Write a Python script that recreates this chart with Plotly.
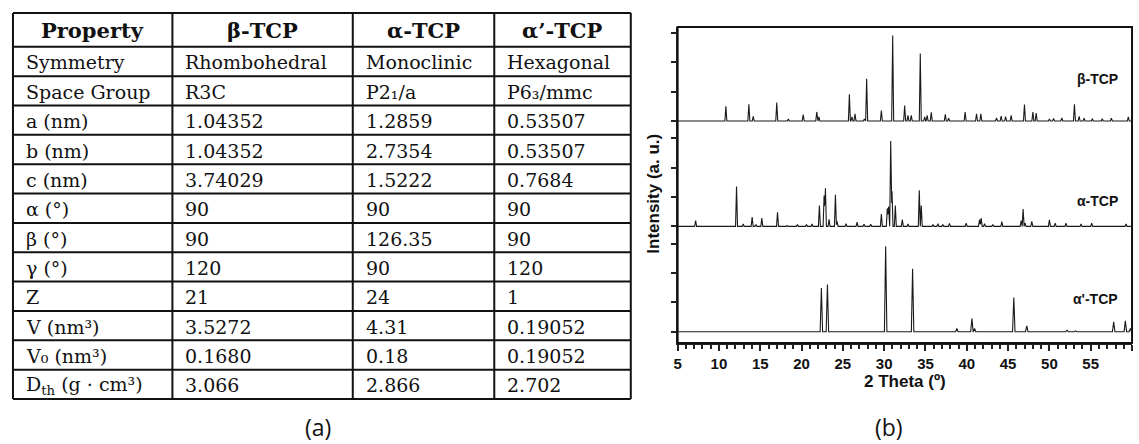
import numpy as np
import plotly.graph_objects as go

# ---------------- DATA ----------------
table_header = ["Property", "β-TCP", "α-TCP", "α’-TCP"]
prop_names = ["Symmetry", "Space Group", "a (nm)", "b (nm)", "c (nm)", "α (°)", "β (°)",
              "γ (°)", "Z", "V (nm³)", "V₀ (nm³)", "D<sub>th</sub> (g · cm³)"]
beta_vals = ["Rhombohedral", "R3C", "1.04352", "1.04352", "3.74029", "90", "90",
             "120", "21", "3.5272", "0.1680", "3.066"]
alpha_vals = ["Monoclinic", "P2₁/a", "1.2859", "2.7354", "1.5222", "90", "126.35",
              "90", "24", "4.31", "0.18", "2.866"]
alphap_vals = ["Hexagonal", "P6₃/mmc", "0.53507", "0.53507", "0.7684", "90", "90",
               "120", "1", "0.19052", "0.19052", "2.702"]

# XRD peaks (2θ in degrees, relative intensity in tick units)
beta_pos = [10.84, 13.62, 14.15, 17.0, 18.4, 20.2, 21.84, 22.1, 25.79, 26.1, 26.47, 27.6,
            27.88, 29.66, 31.03, 32.48, 32.88, 33.28, 34.37, 34.9, 35.2, 35.7, 37.4, 37.8,
            39.8, 41.18, 41.7, 43.6, 44.16, 44.7, 45.37, 46.98, 48.0, 48.4, 50.0, 50.5,
            51.5, 53.03, 53.6, 54.2, 55.2, 56.4, 57.5, 59.55]
beta_int = [0.50, 0.57, 0.16, 0.63, 0.07, 0.22, 0.31, 0.14, 0.91, 0.14, 0.25, 0.07,
            1.44, 0.36, 2.92, 0.53, 0.19, 0.19, 2.30, 0.14, 0.19, 0.30, 0.23, 0.10,
            0.31, 0.25, 0.25, 0.11, 0.17, 0.15, 0.19, 0.56, 0.31, 0.27, 0.07, 0.09,
            0.11, 0.57, 0.16, 0.10, 0.08, 0.08, 0.10, 0.14]

alpha_pos = [7.18, 12.13, 12.94, 14.02, 14.47, 15.19, 17.09, 18.25, 19.5, 20.6, 21.28,
             22.16, 22.73, 22.89, 23.33, 24.1, 24.3, 25.39, 26.72, 27.56, 28.37, 29.66,
             30.38, 30.54, 30.79, 30.95, 31.35, 32.2, 32.88, 34.25, 34.49, 35.9, 36.5,
             37.1, 37.9, 39.93, 41.54, 41.74, 42.15, 43.15, 44.24, 46.58, 46.82, 47.06,
             47.87, 50.0, 50.7, 52.0, 53.83, 55.12, 59.27]
alpha_int = [0.20, 1.36, 0.08, 0.32, 0.06, 0.28, 0.48, 0.03, 0.06, 0.06, 0.08,
             0.71, 1.05, 1.30, 0.24, 1.08, 0.17, 0.09, 0.14, 0.07, 0.07, 0.42,
             0.62, 0.68, 2.91, 1.20, 0.71, 0.23, 0.08, 1.23, 0.71, 0.06, 0.09,
             0.06, 0.10, 0.11, 0.23, 0.28, 0.09, 0.06, 0.16, 0.20, 0.59, 0.11,
             0.17, 0.22, 0.11, 0.11, 0.08, 0.11, 0.08]

alphap_pos = [19.1, 22.4, 23.13, 30.18, 33.44, 38.8, 40.62, 40.94, 45.69, 47.26,
              52.14, 53.15, 57.78, 59.19, 59.8]
alphap_int = [0.02, 1.49, 1.61, 2.92, 2.15, 0.11, 0.45, 0.11, 1.17, 0.20,
              0.05, 0.03, 0.34, 0.37, 0.11]

series_labels = ["β-TCP", "α-TCP", "α'-TCP"]
x_ticks = [5, 10, 15, 20, 25, 30, 35, 40, 45, 50, 55, 60]

# ---------------- LAYOUT HELPERS ----------------
W, H = 1139, 444
def px(x): return x / W
def py(y): return 1 - y / H

def profile(pos, hts, w):
    pts = {5.0, 60.0}
    for p in pos:
        pts.update([p - w, p, p + w])
    xs = np.array(sorted(v for v in pts if 5 <= v <= 60))
    ys = np.zeros_like(xs)
    for p, h in zip(pos, hts):
        ys = np.maximum(ys, h * np.clip(1 - np.abs(xs - p) / w, 0, None))
    return xs, ys

fig = go.Figure()

# panels: bottom α' (y), middle α (y2), top β (y3)
panels = [("y3", beta_pos, beta_int, 0.12), ("y2", alpha_pos, alpha_int, 0.12),
          ("y", alphap_pos, alphap_int, 0.15)]
for ax, pos, hts, w in panels:
    xs, ys = profile(pos, hts, w)
    fig.add_trace(go.Scatter(x=xs, y=ys, mode="lines", yaxis=ax, xaxis="x",
                             line=dict(color="#1a1a1a", width=1.1),
                             hoverinfo="skip", showlegend=False))

plot_l, plot_r, plot_t, plot_b = 676, 1132, 27, 343
ph = (plot_b - plot_t) / 3
yrange = [-0.386, 3.209]
yax_common = dict(range=yrange, showgrid=False, zeroline=False, showticklabels=False,
                  tickvals=[0, 1, 2, 3], ticks="outside", ticklen=5, tickwidth=1.5,
                  tickcolor="#222", showline=True, linecolor="#222", linewidth=1.5,
                  anchor="x", fixedrange=True)

fig.update_layout(
    width=W, height=H, margin=dict(l=0, r=0, t=0, b=0),
    paper_bgcolor="white", plot_bgcolor="white",
    font=dict(family="Liberation Sans, Arial, sans-serif", color="#111"),
    xaxis=dict(domain=[px(plot_l), px(plot_r)], range=[5, 60], tickvals=x_ticks,
               ticktext=[f"<b>{t}</b>" for t in x_ticks],
               showgrid=False, zeroline=False, ticks="outside", ticklen=6, tickwidth=1.5,
               tickcolor="#222", showline=True, linecolor="#222", linewidth=2,
               tickfont=dict(size=15, family="Liberation Sans, Arial", color="#111"),
               minor=dict(dtick=1, ticks="outside", ticklen=4, tickwidth=1.5,
                          tickcolor="#222", showgrid=False),
               anchor="y"),
    yaxis=dict(domain=[py(plot_b), py(plot_b - ph)], **yax_common),
    yaxis2=dict(domain=[py(plot_b - ph), py(plot_b - 2 * ph)], **yax_common),
    yaxis3=dict(domain=[py(plot_b - 2 * ph), py(plot_t)], **yax_common),
)

shapes = []
annotations = []
# plot frame
shapes.append(dict(type="rect", xref="paper", yref="paper", x0=px(plot_l), x1=px(plot_r),
                   y0=py(plot_b), y1=py(plot_t), line=dict(color="#111", width=2)))

# series labels
for lab, yc in zip(series_labels, [78.5, 201, 299]):
    annotations.append(dict(xref="paper", yref="paper", x=px(1120), y=py(yc),
                            xanchor="right", yanchor="middle", showarrow=False,
                            text=f"<b>{lab}</b>",
                            font=dict(size=14, family="Liberation Sans, Arial", color="#111")))
# axis titles
annotations.append(dict(xref="paper", yref="paper", x=px(904), y=py(381), showarrow=False,
                        xanchor="center", yanchor="middle", text="<b>2 Theta (º)</b>",
                        font=dict(size=17, family="Liberation Sans, Arial", color="#111")))
annotations.append(dict(xref="paper", yref="paper", x=px(651), y=py(194), showarrow=False,
                        xanchor="center", yanchor="middle", textangle=-90,
                        text="<b>Intensity (a. u.)</b>",
                        font=dict(size=17, family="Liberation Sans, Arial", color="#111")))

# ---------------- TABLE ----------------
col_x = [9, 169, 350, 492, 629]
row_y = [13, 46.8] + [46.8 + 29.35 * (i + 1) for i in range(12)]
tbl_line = dict(color="#111", width=2)
for x in col_x:
    shapes.append(dict(type="line", xref="paper", yref="paper", x0=px(x), x1=px(x),
                       y0=py(row_y[0]), y1=py(row_y[-1]), line=tbl_line))
for y in row_y:
    shapes.append(dict(type="line", xref="paper", yref="paper", x0=px(col_x[0]), x1=px(col_x[-1]),
                       y0=py(y), y1=py(y), line=tbl_line))

serif = "DejaVu Serif, Liberation Serif, serif"
for j, h in enumerate(table_header):
    annotations.append(dict(xref="paper", yref="paper",
                            x=px((col_x[j] + col_x[j + 1]) / 2), y=py((row_y[0] + row_y[1]) / 2 + 1),
                            xanchor="center", yanchor="middle", showarrow=False,
                            text=f"<b>{h}</b>", font=dict(size=21, family=serif, color="#111")))
columns = [prop_names, beta_vals, alpha_vals, alphap_vals]
for j, col in enumerate(columns):
    for i, txt in enumerate(col):
        yc = (row_y[i + 1] + row_y[i + 2]) / 2 + 1
        annotations.append(dict(xref="paper", yref="paper", x=px(col_x[j] + 11), y=py(yc),
                                xanchor="left", yanchor="middle", showarrow=False,
                                text=txt, font=dict(size=19, family=serif, color="#111")))

# panel captions
for lab, xc in [("(a)", 315), ("(b)", 888)]:
    annotations.append(dict(xref="paper", yref="paper", x=px(xc), y=py(427), showarrow=False,
                            xanchor="center", yanchor="middle", text=lab, borderpad=0,
                            font=dict(size=23, family="Open Sans, Noto Sans, sans-serif",
                                      color="#111")))

fig.update_layout(shapes=shapes, annotations=annotations)
fig.write_html("out.html")
